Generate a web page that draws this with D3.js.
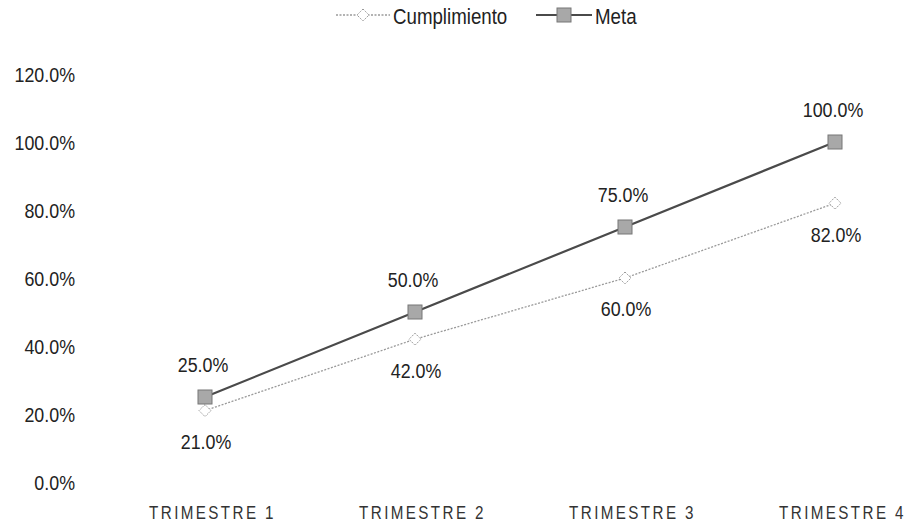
<!DOCTYPE html>
<html><head><meta charset="utf-8">
<script src="https://cdn.jsdelivr.net/npm/d3@7/dist/d3.min.js"></script>
<style>
body{margin:0;background:#fff;}
svg{display:block;}
svg text{font-family:"Liberation Sans",Arial,sans-serif;}
</style></head>
<body><svg id="c" width="918" height="529"></svg>
<script>
const categories = ["TRIMESTRE 1","TRIMESTRE 2","TRIMESTRE 3","TRIMESTRE 4"];
const cumplimiento = [0.21,0.42,0.60,0.82];
const meta = [0.25,0.50,0.75,1.00];
const yTicks = [0,0.2,0.4,0.6,0.8,1.0,1.2];
const seriesNames = ["Cumplimiento","Meta"];

const svg = d3.select("#c");
const x = d3.scalePoint().domain(categories).range([205,835]);
const y = d3.scaleLinear().domain([0,1.2]).range([482,74]);
const fmt = d3.format(".1%");
const SX = "scale(0.85,1)";

// y axis labels
const yAxis = d3.axisLeft(y).tickValues(yTicks).tickFormat(fmt).tickSize(0).tickPadding(0);
const ya = svg.append("g").attr("transform","translate(75,0)").call(yAxis);
ya.select(".domain").remove();
ya.selectAll("text").attr("font-size",21).attr("fill","#222").attr("font-family",null)
  .attr("dy","0.35em").attr("transform",SX);

// x axis labels
const xAxis = d3.axisBottom(x).tickSize(0).tickPadding(0);
const xa = svg.append("g").attr("transform","translate(7,506)").call(xAxis);
xa.select(".domain").remove();
xa.selectAll("text").attr("font-size",19).attr("fill","#333").attr("letter-spacing","3px")
  .attr("font-family",null).attr("dy","0.71em").attr("transform","scale(0.8,1)");

const line = d3.line().x((d,i)=>x(categories[i])).y(d=>y(d));

// Meta line
svg.append("path").datum(meta).attr("d",line).attr("fill","none")
  .attr("stroke","#4a4a4a").attr("stroke-width",2.2);
// Cumplimiento line
svg.append("path").datum(cumplimiento).attr("d",line).attr("fill","none")
  .attr("stroke","#9a9a9a").attr("stroke-width",1.3).attr("stroke-dasharray","2,1.5");

function diamond(g,cx,cy){
  g.append("path").attr("d",`M${cx},${cy-6}L${cx+6},${cy}L${cx},${cy+6}L${cx-6},${cy}Z`)
   .attr("fill","#fff").attr("stroke","#9a9a9a").attr("stroke-width",1).attr("stroke-dasharray","1.5,1");
}
function square(g,cx,cy){
  g.append("rect").attr("x",cx-7).attr("y",cy-7).attr("width",14).attr("height",14)
   .attr("fill","#a8a8a8").attr("stroke","#777").attr("stroke-width",1);
}

const mk = svg.append("g");
cumplimiento.forEach((v,i)=>diamond(mk,x(categories[i]),y(v)));
meta.forEach((v,i)=>square(mk,x(categories[i]),y(v)));

// data labels
function label(px,py,t,anchor,size){
  svg.append("g").attr("transform",`translate(${px},${py})`)
    .append("text").attr("transform",SX).attr("text-anchor",anchor).attr("dy","0.35em")
    .attr("font-size",size).attr("fill","#222").text(t);
}
meta.forEach((v,i)=>label(x(categories[i])-2,y(v)-32,fmt(v),"middle",21));
cumplimiento.forEach((v,i)=>label(x(categories[i])+1,y(v)+31,fmt(v),"middle",21));

// legend
const lg = svg.append("g");
lg.append("line").attr("x1",336).attr("x2",390).attr("y1",15).attr("y2",15)
  .attr("stroke","#9a9a9a").attr("stroke-width",1.3).attr("stroke-dasharray","2,1.5");
diamond(lg,363,15);
label(393,16,seriesNames[0],"start",22);
lg.append("line").attr("x1",536).attr("x2",592).attr("y1",15).attr("y2",15)
  .attr("stroke","#4a4a4a").attr("stroke-width",2.2);
square(lg,564,15);
label(595,16,seriesNames[1],"start",22);
</script></body></html>
